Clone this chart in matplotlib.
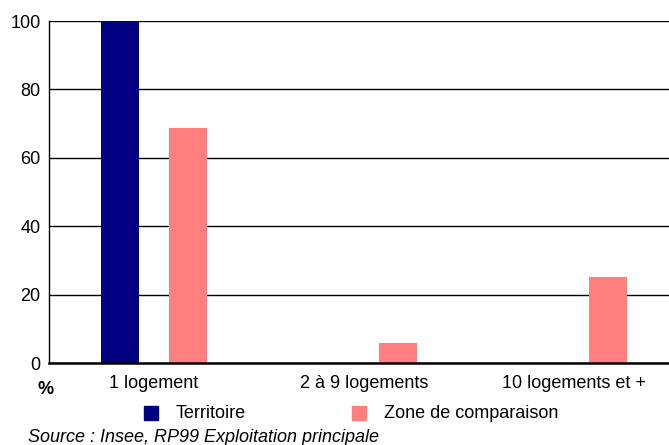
import matplotlib.pyplot as plt
import matplotlib.patches as mpatches
import numpy as np

plt.rcParams['font.family'] = ['Liberation Sans', 'DejaVu Sans']

categories = ["1 logement", "2 à 9 logements", "10 logements et +"]
territoire = [100, 0, 0]
zone = [68.8, 5.9, 25.2]
yticks = [0, 20, 40, 60, 80, 100]

navy = "#000080"
pink = "#ff7f7f"
fs = 13

fig = plt.figure(figsize=(6.69, 4.45), dpi=100)
ax = fig.add_axes([49 / 669, 82 / 445, 630 / 669, 342 / 445])

x = np.arange(len(categories))
w = 0.18
ax.bar(x - 0.163, territoire, w, color=navy, zorder=3)
ax.bar(x + 0.163, zone, w, color=pink, zorder=3)

ax.set_xlim(-0.5, 2.5)
ax.set_ylim(0, 100)
ax.set_yticks(yticks)
ax.set_xticks(x)
ax.set_xticklabels(categories, fontsize=fs)
ax.tick_params(axis='y', labelsize=fs, length=0, pad=6)
ax.tick_params(axis='x', length=0, pad=9)
ax.yaxis.grid(True, color='black', linewidth=1.0, zorder=1)
ax.set_axisbelow(True)
for s in ['top', 'right']:
    ax.spines[s].set_visible(False)
ax.spines['left'].set_linewidth(1.0)
ax.spines['bottom'].set_linewidth(1.8)
ax.spines['bottom'].set_zorder(4)

fig.text(46 / 669, 1 - 389 / 445, "%", fontsize=fs, fontweight='bold',
         ha='center', va='center')

# legend drawn by hand to match spacing
for px, col, lab in [(144, navy, "Territoire"), (352, pink, "Zone de comparaison")]:
    fig.patches.append(mpatches.Rectangle((px / 669, 1 - 420 / 445), 14 / 669, 14 / 445,
                                          transform=fig.transFigure, color=col))
    fig.text((px + 32) / 669, 1 - 413 / 445, lab, fontsize=fs, va='center')

fig.text(28 / 669, 1 - 437 / 445, "Source : Insee, RP99 Exploitation principale",
         fontsize=fs, style='italic', va='center')

fig.savefig("out.png", dpi=100)
